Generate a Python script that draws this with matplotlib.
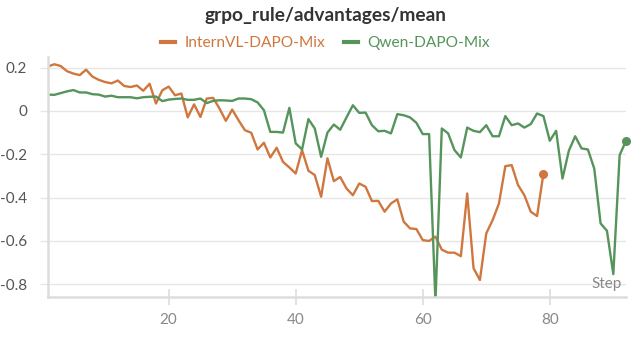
import matplotlib
matplotlib.use("Agg")
import matplotlib.pyplot as plt
import numpy as np

title = "grpo_rule/advantages/mean"
series_names = ["InternVL-DAPO-Mix", "Qwen-DAPO-Mix"]

intern_steps = list(range(1, 80))
intern_vals = [0.205, 0.215, 0.207, 0.183, 0.172, 0.165, 0.19, 0.158, 0.143, 0.133,
               0.127, 0.14, 0.115, 0.11, 0.117, 0.093, 0.125, 0.034, 0.095, 0.112,
               0.072, 0.08, -0.03, 0.03, -0.028, 0.057, 0.06, 0.011, -0.046, 0.006,
               -0.043, -0.089, -0.101, -0.178, -0.147, -0.215, -0.17, -0.235, -0.261, -0.289,
               -0.181, -0.276, -0.296, -0.396, -0.219, -0.324, -0.305, -0.358, -0.389, -0.335,
               -0.35, -0.416, -0.415, -0.465, -0.427, -0.408, -0.511, -0.542, -0.545, -0.596,
               -0.6, -0.58, -0.64, -0.654, -0.654, -0.67, -0.381, -0.726, -0.78, -0.565,
               -0.504, -0.427, -0.255, -0.25, -0.342, -0.389, -0.465, -0.485, -0.289]

qwen_steps = list(range(1, 93))
qwen_vals = [0.075, 0.074, 0.082, 0.09, 0.096, 0.085, 0.085, 0.077, 0.075, 0.066,
             0.07, 0.063, 0.063, 0.063, 0.058, 0.063, 0.065, 0.066, 0.045, 0.052,
             0.055, 0.057, 0.051, 0.051, 0.057, 0.036, 0.046, 0.049, 0.048, 0.046,
             0.057, 0.057, 0.054, 0.039, 0.003, -0.097, -0.097, -0.1, 0.014, -0.15,
             -0.178, -0.038, -0.081, -0.212, -0.1, -0.063, -0.087, -0.03, 0.026, -0.009,
             -0.008, -0.066, -0.094, -0.092, -0.104, -0.015, -0.02, -0.03, -0.055, -0.107,
             -0.107, -0.88, -0.081, -0.104, -0.181, -0.215, -0.077, -0.092, -0.098, -0.066,
             -0.117, -0.117, -0.024, -0.066, -0.058, -0.077, -0.061, -0.012, -0.024, -0.138,
             -0.092, -0.312, -0.184, -0.117, -0.173, -0.178, -0.266, -0.519, -0.553, -0.753,
             -0.204, -0.138]

x_ticks = [20, 40, 60, 80]
y_ticks = [0.2, 0, -0.2, -0.4, -0.6, -0.8]
y_ticklabels = ["0.2", "0", "-0.2", "-0.4", "-0.6", "-0.8"]

c_orange = "#D0773F"
c_green = "#55945B"
grid_c = "#E6E6E6"
text_gray = "#888888"

plt.rcParams['font.family'] = ['Lato', 'DejaVu Sans']

fig = plt.figure(figsize=(6.38, 3.39), dpi=100)
ax = fig.add_axes([0.0752, 0.1248, 0.906, 0.708])

ax.plot(intern_steps, intern_vals, color=c_orange, lw=1.7, label=series_names[0],
        solid_joinstyle='round', clip_on=True)
ax.plot(qwen_steps, qwen_vals, color=c_green, lw=1.7, label=series_names[1],
        solid_joinstyle='round', clip_on=True)
ax.plot(intern_steps[-1], intern_vals[-1], 'o', color=c_orange, ms=5.5)
ax.plot(qwen_steps[-1], qwen_vals[-1], 'o', color=c_green, ms=5.5, clip_on=False)

ax.set_xlim(1, 92)
ax.set_ylim(-0.857, 0.25)

ax.set_yticks(y_ticks)
ax.set_yticklabels(y_ticklabels)
ax.set_xticks(x_ticks)

ax.grid(axis='y', color=grid_c, lw=1.0)
ax.set_axisbelow(True)

for s in ['top', 'right']:
    ax.spines[s].set_visible(False)
for s in ['left', 'bottom']:
    ax.spines[s].set_color("#DDDDDD")
    ax.spines[s].set_linewidth(1.8)

ax.tick_params(axis='y', length=6, width=1.0, color=grid_c, labelcolor="#555555",
               labelsize=11, pad=9)
ax.tick_params(axis='x', direction='inout', length=11, width=1.2, color="#DDDDDD",
               labelcolor=text_gray, labelsize=11, pad=6)

ax.text(0.993, 0.025, "Step", transform=ax.transAxes, ha='right', va='bottom',
        color=text_gray, fontsize=11)

fig.text(0.51, 0.955, title, ha='center', va='center', fontsize=13.8,
         fontweight='bold', color="#333333")

leg = fig.legend(loc='center', bbox_to_anchor=(0.51, 0.873), ncol=2, frameon=False,
                 handlelength=0.9, handletextpad=0.6, columnspacing=1.2,
                 fontsize=11.2, labelcolor='linecolor')
for h in leg.legend_handles:
    h.set_linewidth(3)

fig.savefig("out.png", dpi=100)
